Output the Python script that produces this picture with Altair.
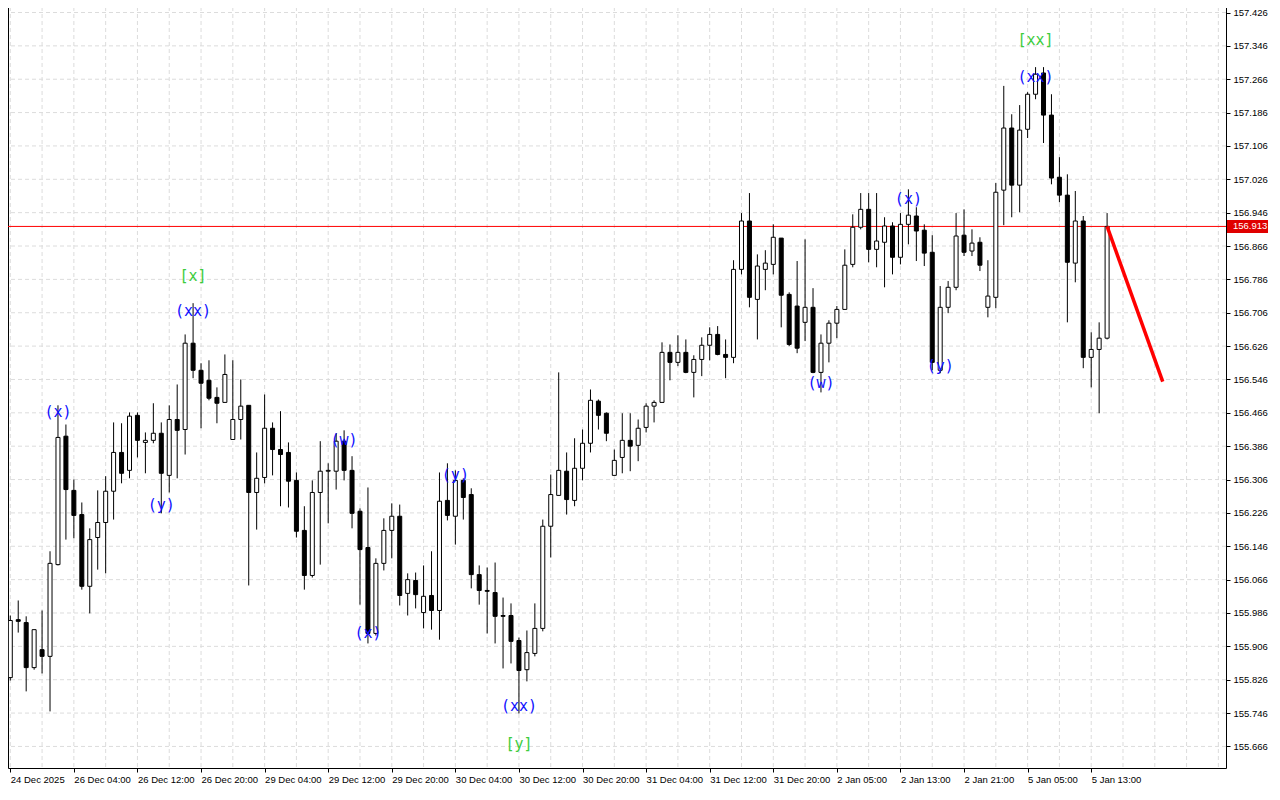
import json
import altair as alt
import pandas as pd

# ---------------- data (H1 candles) ----------------
opens = [
    155.831, 155.970, 155.963, 155.855, 155.898, 155.882, 156.102, 156.410, 156.280, 156.222,
    156.050, 156.167, 156.203, 156.278, 156.371, 156.328, 156.460, 156.395, 156.400, 156.417,
    156.316, 156.450, 156.426, 156.633, 156.568, 156.544, 156.503, 156.491, 156.402, 156.450,
    156.484, 156.275, 156.311, 156.429, 156.378, 156.371, 156.304, 156.184, 156.076, 156.275,
    156.326, 156.326, 156.398, 156.328, 156.230, 156.143, 155.937, 156.105, 156.184, 156.218,
    156.033, 156.064, 155.987, 156.028, 155.992, 156.256, 156.218, 156.304, 156.270, 156.078,
    156.040, 156.035, 155.980, 155.980, 155.920, 155.850, 155.889, 155.949, 156.194, 156.268,
    156.326, 156.256, 156.333, 156.393, 156.494, 156.465, 156.316, 156.359, 156.400, 156.388,
    156.431, 156.482, 156.491, 156.611, 156.587, 156.611, 156.563, 156.594, 156.628, 156.654,
    156.606, 156.599, 156.810, 156.926, 156.738, 156.810, 156.822, 156.885, 156.750, 156.722,
    156.683, 156.719, 156.563, 156.633, 156.681, 156.714, 156.822, 156.911, 156.954, 156.858,
    156.875, 156.914, 156.839, 156.918, 156.938, 156.904, 156.851, 156.568, 156.719, 156.767,
    156.892, 156.854, 156.875, 156.719, 156.743, 157.000, 157.149, 157.012, 157.146, 157.230,
    157.281, 157.180, 157.031, 156.988, 156.825, 156.926, 156.599, 156.618, 156.645,
]
highs = [
    155.980, 156.016, 155.978, 155.946, 155.992, 156.134, 156.484, 156.438, 156.306, 156.251,
    156.189, 156.280, 156.314, 156.443, 156.441, 156.467, 156.467, 156.419, 156.489, 156.443,
    156.484, 156.534, 156.654, 156.729, 156.585, 156.592, 156.527, 156.606, 156.592, 156.546,
    156.484, 156.371, 156.510, 156.443, 156.470, 156.395, 156.323, 156.242, 156.304, 156.398,
    156.345, 156.417, 156.424, 156.362, 156.237, 156.287, 156.117, 156.213, 156.249, 156.246,
    156.081, 156.083, 156.100, 156.134, 156.323, 156.345, 156.328, 156.309, 156.285, 156.100,
    156.095, 156.107, 156.023, 156.009, 155.927, 155.944, 156.009, 156.210, 156.318, 156.563,
    156.371, 156.405, 156.426, 156.522, 156.498, 156.467, 156.378, 156.465, 156.465, 156.450,
    156.489, 156.496, 156.635, 156.630, 156.652, 156.642, 156.604, 156.647, 156.671, 156.674,
    156.642, 156.832, 156.945, 156.993, 156.846, 156.856, 156.918, 156.885, 156.755, 156.830,
    156.882, 156.765, 156.654, 156.688, 156.722, 156.858, 156.942, 156.993, 156.993, 156.993,
    156.935, 156.923, 156.945, 157.002, 156.959, 156.918, 156.892, 156.770, 156.782, 156.945,
    156.954, 156.906, 156.887, 156.832, 157.017, 157.250, 157.182, 157.204, 157.235, 157.295,
    157.295, 157.230, 157.079, 157.038, 156.998, 156.938, 156.659, 156.683, 156.945,
]
lows = [
    155.824, 155.939, 155.798, 155.850, 155.841, 155.750, 156.100, 156.162, 156.165, 156.042,
    155.985, 156.090, 156.081, 156.210, 156.297, 156.309, 156.359, 156.321, 156.393, 156.225,
    156.275, 156.309, 156.366, 156.549, 156.429, 156.496, 156.441, 156.491, 156.402, 156.402,
    156.052, 156.186, 156.297, 156.316, 156.242, 156.239, 156.167, 156.042, 156.071, 156.102,
    156.201, 156.282, 156.304, 156.189, 156.006, 155.913, 155.932, 156.088, 156.117, 156.004,
    155.980, 155.997, 155.949, 155.946, 155.922, 156.208, 156.150, 156.210, 156.045, 156.006,
    155.937, 155.913, 155.853, 155.865, 155.745, 155.822, 155.882, 155.942, 156.119, 156.268,
    156.222, 156.242, 156.304, 156.371, 156.426, 156.398, 156.316, 156.321, 156.326, 156.350,
    156.419, 156.443, 156.491, 156.544, 156.578, 156.561, 156.503, 156.554, 156.592, 156.604,
    156.549, 156.585, 156.798, 156.719, 156.642, 156.760, 156.798, 156.671, 156.626, 156.609,
    156.638, 156.561, 156.515, 156.587, 156.645, 156.714, 156.815, 156.906, 156.827, 156.815,
    156.767, 156.798, 156.822, 156.870, 156.830, 156.818, 156.568, 156.561, 156.705, 156.760,
    156.842, 156.842, 156.806, 156.695, 156.717, 156.916, 156.935, 156.947, 157.125, 157.218,
    157.113, 157.014, 156.971, 156.683, 156.779, 156.573, 156.527, 156.465, 156.642,
]
closes = [
    155.968, 155.966, 155.855, 155.946, 155.882, 156.105, 156.407, 156.282, 156.220, 156.050,
    156.162, 156.203, 156.278, 156.371, 156.321, 156.458, 156.400, 156.400, 156.417, 156.321,
    156.450, 156.424, 156.633, 156.568, 156.537, 156.501, 156.489, 156.558, 156.450, 156.482,
    156.275, 156.309, 156.429, 156.378, 156.366, 156.302, 156.182, 156.076, 156.275, 156.326,
    156.328, 156.398, 156.328, 156.225, 156.138, 155.937, 156.105, 156.184, 156.218, 156.028,
    156.066, 156.030, 156.026, 155.992, 156.254, 156.220, 156.304, 156.263, 156.078, 156.040,
    156.038, 155.978, 155.978, 155.918, 155.848, 155.891, 155.949, 156.194, 156.270, 156.328,
    156.258, 156.333, 156.393, 156.496, 156.460, 156.417, 156.352, 156.400, 156.386, 156.429,
    156.482, 156.491, 156.611, 156.587, 156.611, 156.563, 156.594, 156.628, 156.654, 156.606,
    156.599, 156.810, 156.926, 156.743, 156.818, 156.825, 156.887, 156.748, 156.630, 156.621,
    156.719, 156.563, 156.633, 156.681, 156.714, 156.820, 156.911, 156.954, 156.858, 156.878,
    156.914, 156.839, 156.918, 156.940, 156.902, 156.849, 156.587, 156.719, 156.767, 156.890,
    156.851, 156.873, 156.820, 156.746, 156.995, 157.149, 157.012, 157.144, 157.230, 157.278,
    157.180, 157.029, 156.988, 156.827, 156.926, 156.599, 156.618, 156.645, 156.913,
]

current_price = 156.913

# forecast segment (bar index, price)
forecast_bars = [138, 145]
forecast_prices = [156.913, 156.541]

# wave labels
wave_texts = ["(x)", "(y)", "(xx)", "(w)", "(x)", "(y)", "(xx)", "(w)", "(x)", "(y)", "(xx)"]
wave_bars = [6, 19, 23, 42, 45, 56, 64, 102, 113, 117, 129]
wave_prices = [156.467, 156.244, 156.710, 156.400, 155.937, 156.316, 155.762,
               156.537, 156.978, 156.578, 157.271]

major_texts = ["[x]", "[y]", "[xx]"]
major_bars = [23, 64, 129]
major_prices = [156.794, 155.673, 157.360]

# axis ticks / labels
time_label_bars = [0, 8, 16, 24, 32, 40, 48, 56, 64, 72, 80, 88, 96, 104, 112, 120, 128, 136]
time_labels = ["24 Dec 2025", "26 Dec 04:00", "26 Dec 12:00", "26 Dec 20:00", "29 Dec 04:00",
               "29 Dec 12:00", "29 Dec 20:00", "30 Dec 04:00", "30 Dec 12:00", "30 Dec 20:00",
               "31 Dec 04:00", "31 Dec 12:00", "31 Dec 20:00", "2 Jan 05:00", "2 Jan 13:00",
               "2 Jan 21:00", "5 Jan 05:00", "5 Jan 13:00"]
grid_bars = list(range(0, 153, 4))
price_ticks = [155.666, 155.746, 155.826, 155.906, 155.986, 156.066, 156.146, 156.226,
               156.306, 156.386, 156.466, 156.546, 156.626, 156.706, 156.786, 156.866,
               156.946, 157.026, 157.106, 157.186, 157.266, 157.346, 157.426]

# ---------------- chart ----------------
W, H = 1218, 768
PX = 0.0023981          # price per pixel in the reference
TOP = 157.456           # price at the top edge of the plot
FONT = "Liberation Sans"

df = pd.DataFrame({"bar": list(range(len(opens))), "open": opens, "high": highs,
                   "low": lows, "close": closes})
df["dir"] = ["up" if c >= o else "down" for o, c in zip(opens, closes)]

xscale = alt.Scale(domain=[-0.2875, 152.96], nice=False, zero=False, padding=0)
yscale = alt.Scale(domain=[TOP - H * PX, TOP], nice=False, zero=False, padding=0)

label_expr = f"{json.dumps(time_labels)}[indexof({json.dumps(time_label_bars)}, datum.value)]"

x_axis = alt.Axis(values=time_label_bars, labelExpr=label_expr, grid=False, domain=False,
                  ticks=True, tickSize=4, tickColor="black", labelAlign="left",
                  labelBaseline="top", labelPadding=2, labelFont=FONT, labelFontSize=9.5,
                  labelColor="black", labelFlush=False, labelOverlap=False, labelBound=False,
                  title=None)
y_axis = alt.Axis(values=price_ticks, format=".3f", orient="right", grid=False, domain=False,
                  ticks=True, tickSize=4, tickColor="black", labelPadding=3, labelFont=FONT,
                  labelFontSize=9.5, labelColor="black", labelOverlap=False, labelFlush=False,
                  title=None)


def X(field):
    return alt.X(field, type="quantitative", scale=xscale, axis=x_axis)


def Y(field):
    return alt.Y(field, type="quantitative", scale=yscale, axis=y_axis)


vgrid = alt.Chart(pd.DataFrame({"bar": grid_bars})).mark_rule(
    color="#dcdcdc", strokeDash=[4, 3], strokeWidth=1
).encode(x=X("bar"))

hgrid = alt.Chart(pd.DataFrame({"price": price_ticks})).mark_rule(
    color="#dcdcdc", strokeDash=[4, 3], strokeWidth=1
).encode(y=Y("price"))

pline = alt.Chart(pd.DataFrame({"price": [current_price]})).mark_rule(
    color="#ff0000", strokeWidth=1
).encode(y=Y("price"))

wicks = alt.Chart(df).mark_rule(color="black", strokeWidth=1).encode(
    x=X("bar"), y=Y("low"), y2="high:Q"
)

bodies = alt.Chart(df).mark_bar(size=4, stroke="black", strokeWidth=1).encode(
    x=X("bar"), y=Y("open"), y2="close:Q",
    fill=alt.Fill("dir:N", scale=alt.Scale(domain=["up", "down"], range=["white", "black"]),
                  legend=None),
)

forecast = alt.Chart(pd.DataFrame({"bar": forecast_bars, "price": forecast_prices})).mark_line(
    color="#ff0000", strokeWidth=3.5
).encode(x=X("bar"), y=Y("price"))

waves = alt.Chart(pd.DataFrame({"bar": wave_bars, "price": wave_prices, "t": wave_texts})).mark_text(
    font="DejaVu Sans Mono", fontSize=15, color="#1010ff", align="center", baseline="middle"
).encode(x=X("bar"), y=Y("price"), text="t:N")

majors = alt.Chart(pd.DataFrame({"bar": major_bars, "price": major_prices, "t": major_texts})).mark_text(
    font="DejaVu Sans Mono", fontSize=15, color="#3ccc3c", align="center", baseline="middle"
).encode(x=X("bar"), y=Y("price"), text="t:N")

tag_df = pd.DataFrame({"price": [current_price], "t": [f"{current_price:.3f}"]})
tag_box = alt.Chart(tag_df).mark_rule(color="#e00000", strokeWidth=13).encode(
    x=alt.value(W + 1), x2=alt.value(W + 42), y=Y("price")
)
tag_text = alt.Chart(tag_df).mark_text(
    font=FONT, fontSize=9.5, color="white", align="left", baseline="middle"
).encode(x=alt.value(W + 7), y=Y("price"), text="t:N")

chart = alt.layer(
    vgrid, hgrid, pline, wicks, bodies, forecast, waves, majors, tag_box, tag_text
).properties(
    width=W, height=H,
    autosize=alt.AutoSizeParams(type="none"),
    padding={"left": 0, "top": -8, "right": 46, "bottom": 18},
).configure_view(stroke="black", strokeWidth=1)

chart.save("out.html", embed_options={"renderer": "svg", "actions": False})
